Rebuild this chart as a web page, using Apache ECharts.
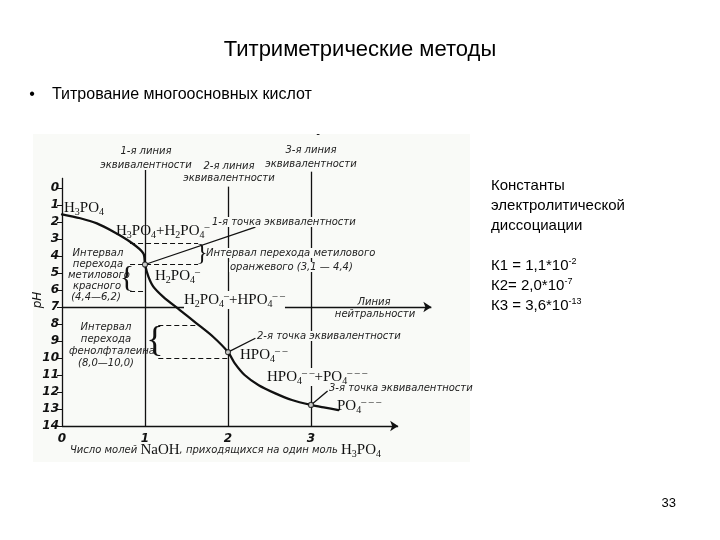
<!DOCTYPE html>
<html>
<head>
<meta charset="utf-8">
<script src="https://cdn.jsdelivr.net/npm/echarts@6/dist/echarts.min.js"></script>
<style>
  html, body { margin: 0; padding: 0; background: #fff; }
  #chart { width: 720px; height: 540px; }
</style>
</head>
<body>
<div id="chart"></div>
<script>
  // кривая титрования H3PO4 (моли NaOH -> pH)
  const curveX  = [0, 0.22, 0.42, 0.62, 0.82, 0.98, 1.0, 1.04, 1.1, 1.22, 1.42, 1.62, 1.82, 2.0, 2.08, 2.2, 2.37, 2.57, 2.77, 3.0, 3.17, 3.33];
  const curvePH = [1.55, 1.78, 2.08, 2.57, 3.16, 3.84, 4.5, 5.2, 5.8, 6.4, 7.18, 7.96, 8.75, 9.65, 10.3, 11.0, 11.6, 12.08, 12.47, 12.76, 12.92, 13.06];

  // точки эквивалентности
  const eqX  = [1, 2, 3];
  const eqPH = [4.5, 9.65, 12.76];
  // верх линий эквивалентности (pH)
  const eqLineTop = [-1.06, -0.08, -0.96];

  const neutralPH = 7;
  // интервалы перехода индикаторов (как на рисунке)
  const orangeRange = [3.25, 4.5];
  const redRange    = [4.5, 6.1];
  const phenolRange = [8.06, 10.0];

  const xTickLabels = ['0', '1', '2', '3'];

  const bg = '#f9faf7';
  const ink = '#111';

  const chart = echarts.init(document.getElementById('chart'));

  let curveData = [];
  for (let i = 0; i < curveX.length; i++) {
    curveData.push([curveX[i], curvePH[i]]);
  }
  let eqData = [];
  for (let i = 0; i < eqX.length; i++) {
    eqData.push([eqX[i], eqPH[i]]);
  }

  let solidLines = [
    { coords: [[0, 14], [0, -0.6]] },
    { coords: [[0, 14], [4.05, 14]], symbol: ['none', 'arrow'], symbolSize: 8 },
    { coords: [[0, neutralPH], [4.45, neutralPH]], symbol: ['none', 'arrow'], symbolSize: 8 },
    // указатели к подписям точек
    { coords: [[eqX[0], eqPH[0]], [2.33, 2.3]] },
    { coords: [[eqX[1], eqPH[1]], [2.33, 8.84]] },
    { coords: [[eqX[2], eqPH[2]], [3.2, 11.94]] }
  ];
  for (let i = 0; i < eqX.length; i++) {
    solidLines.push({ coords: [[eqX[i], eqLineTop[i]], [eqX[i], 14]] });
  }

  let dashedLines = [
    { coords: [[0.82, orangeRange[0]], [1.64, orangeRange[0]]] },
    { coords: [[0.82, orangeRange[1]], [1.64, orangeRange[1]]] },
    { coords: [[0.82, redRange[1]], [1.0, redRange[1]]] },
    { coords: [[1.16, phenolRange[0]], [1.62, phenolRange[0]]] },
    { coords: [[1.16, phenolRange[1]], [2.0, phenolRange[1]]] }
  ];

  const noteFont = { fontFamily: 'DejaVu Sans', fontStyle: 'italic', fontSize: 10, fill: '#222' };

  function note(x, y, text, align, mask) {
    let st = Object.assign({ text: text, align: align || 'left', verticalAlign: 'middle' }, noteFont);
    if (mask) { st.backgroundColor = bg; st.padding = [0, 1]; }
    return { type: 'text', x: x, y: y, z: 100, style: st };
  }

  const chemRich = {
    n: { fontFamily: 'Liberation Serif', fontSize: 15, fill: ink, lineHeight: 18 },
    b: { fontFamily: 'Liberation Serif', fontSize: 10, fill: ink, lineHeight: 9, verticalAlign: 'bottom' },
    p: { fontFamily: 'Liberation Serif', fontSize: 10, fill: ink, lineHeight: 9, verticalAlign: 'top' }
  };

  function chem(x, y, text, mask) {
    let st = { text: text, rich: chemRich, align: 'left', verticalAlign: 'middle' };
    if (mask) { st.backgroundColor = bg; }
    return { type: 'text', x: x, y: y, z: 100, style: st };
  }

  function brace(x, y, h, ch) {
    return {
      type: 'text', x: x, y: y, z: 100,
      style: { text: ch, fontFamily: 'Liberation Serif', fontSize: h, fill: ink, align: 'center', verticalAlign: 'middle' }
    };
  }

  const option = {
    backgroundColor: '#fff',
    animation: false,
    title: {
      text: 'Титриметрические методы',
      left: 'center',
      top: 34,
      textStyle: { fontFamily: 'Liberation Sans', fontSize: 22, fontWeight: 'normal', color: '#000' }
    },
    grid: { left: 62, top: 188, width: 332, height: 238 },
    xAxis: {
      type: 'value', min: 0, max: 4, interval: 1,
      axisLine: { show: false }, axisTick: { show: false }, splitLine: { show: false },
      axisLabel: {
        margin: 7, color: ink, fontFamily: 'DejaVu Sans', fontStyle: 'italic', fontWeight: 'bold', fontSize: 12,
        formatter: function (v) { return xTickLabels[v] || ''; }
      }
    },
    yAxis: {
      type: 'value', inverse: true, min: 0, max: 14, interval: 1,
      axisLine: { show: false }, splitLine: { show: false },
      axisTick: { show: true, length: 5, lineStyle: { color: ink, width: 1 } },
      axisLabel: { margin: 3, color: ink, fontFamily: 'DejaVu Sans', fontStyle: 'italic', fontWeight: 'bold', fontSize: 12 }
    },
    series: [
      {
        type: 'lines', coordinateSystem: 'cartesian2d', clip: false, z: 3,
        lineStyle: { color: ink, width: 1.3, opacity: 1 },
        symbol: ['none', 'none'],
        data: solidLines
      },
      {
        type: 'lines', coordinateSystem: 'cartesian2d', clip: false, z: 3,
        lineStyle: { color: ink, width: 1.2, type: [5, 3], opacity: 1 },
        data: dashedLines
      },
      {
        type: 'line', data: curveData, smooth: 0.3,
        showSymbol: false, z: 4,
        lineStyle: { color: ink, width: 2.3, join: 'round', cap: 'round' }
      },
      {
        type: 'scatter', data: eqData, symbol: 'circle', symbolSize: 5, z: 5,
        itemStyle: { color: bg, borderColor: ink, borderWidth: 1.2 }
      }
    ],
    graphic: [
      { type: 'rect', z: -10, shape: { x: 33, y: 134, width: 437, height: 328 }, style: { fill: bg } },

      // текст слайда
      { type: 'text', x: 32, y: 95, style: { text: '•', fontFamily: 'Liberation Sans', fontSize: 16, fill: '#000', align: 'center', verticalAlign: 'middle' } },
      { type: 'text', x: 52, y: 95, style: { text: 'Титрование многоосновных кислот', fontFamily: 'Liberation Sans', fontSize: 16, fill: '#000', verticalAlign: 'middle' } },
      {
        type: 'text', x: 491, y: 176,
        style: {
          text: 'Константы\nэлектролитической\nдиссоциации\n\n' +
                'К1 = 1,1*10{s|-2}\nК2= 2,0*10{s|-7}\nК3 = 3,6*10{s|-13}',
          fontFamily: 'Liberation Sans', fontSize: 15, fill: '#000', lineHeight: 20,
          rich: {
            s: { fontFamily: 'Liberation Sans', fontSize: 9, fill: '#000', lineHeight: 20, padding: [0, 0, 9, 0] }
          }
        }
      },
      { type: 'text', x: 676, y: 503, style: { text: '33', fontFamily: 'Liberation Sans', fontSize: 13, fill: '#000', align: 'right', verticalAlign: 'middle' } },

      // подписи линий
      note(146, 151, '1-я линия', 'center'),
      note(146, 165, 'эквивалентности', 'center'),
      note(229, 166, '2-я линия', 'center'),
      note(229, 178, 'эквивалентности', 'center'),
      note(311, 150, '3-я линия', 'center'),
      note(311, 164, 'эквивалентности', 'center'),
      note(318, 134, '-', 'center'),

      chem(64, 208, '{n|H}{b|3}{n|PO}{b|4}'),
      chem(116, 231, '{n|H}{b|3}{n|PO}{b|4}{n|+H}{b|2}{n|PO}{b|4}{p|–}'),
      note(211, 222, '1-я точка эквивалентности', 'left', true),
      note(205, 253, 'Интервал перехода метилового', 'left', true),
      note(229, 267, 'оранжевого (3,1 — 4,4)', 'left', true),
      chem(155, 276, '{n|H}{b|2}{n|PO}{b|4}{p|–}'),
      chem(184, 300, '{n|H}{b|2}{n|PO}{b|4}{p|–}{n|+HPO}{b|4}{p|– –}', true),
      note(374, 302, 'Линия', 'center'),
      note(375, 314, 'нейтральности', 'center'),

      note(98, 253, 'Интервал', 'center'),
      note(98, 264, 'перехода', 'center'),
      note(99, 275, 'метилового', 'center'),
      note(97, 286, 'красного', 'center'),
      note(96, 297, '(4,4—6,2)', 'center'),

      note(106, 327, 'Интервал', 'center'),
      note(106, 339, 'перехода', 'center'),
      note(112, 351, 'фенолфталеина', 'center'),
      note(106, 363, '(8,0—10,0)', 'center'),

      note(256, 336, '2-я точка эквивалентности', 'left', true),
      chem(240, 355, '{n|HPO}{b|4}{p|– –}'),
      chem(267, 377, '{n|HPO}{b|4}{p|– –}{n|+PO}{b|4}{p|– – –}', true),
      note(329, 388, '3-я точка эквивалентности', 'left'),
      chem(337, 406, '{n|PO}{b|4}{p|– – –}'),

      brace(127, 278, 30, '{'),
      brace(202, 254, 24, '}'),
      brace(155, 342, 36, '{'),

      {
        type: 'text', x: 38, y: 300, rotation: Math.PI / 2, z: 100,
        style: { text: 'рН', fontFamily: 'DejaVu Sans', fontStyle: 'italic', fontSize: 12, fill: ink, align: 'center', verticalAlign: 'middle' }
      },
      {
        type: 'text', x: 70, y: 450, z: 100,
        style: {
          text: '{i|Число молей }{n|NaOH}{i|, приходящихся на один моль }{n|H}{b|3}{n|PO}{b|4}',
          verticalAlign: 'middle',
          rich: Object.assign({
            i: { fontFamily: 'DejaVu Sans', fontStyle: 'italic', fontSize: 10, fill: '#222', lineHeight: 18 }
          }, chemRich)
        }
      }
    ]
  };

  chart.setOption(option);
  window.addEventListener('resize', function () {
    chart.resize();
  });
</script>
</body>
</html>
